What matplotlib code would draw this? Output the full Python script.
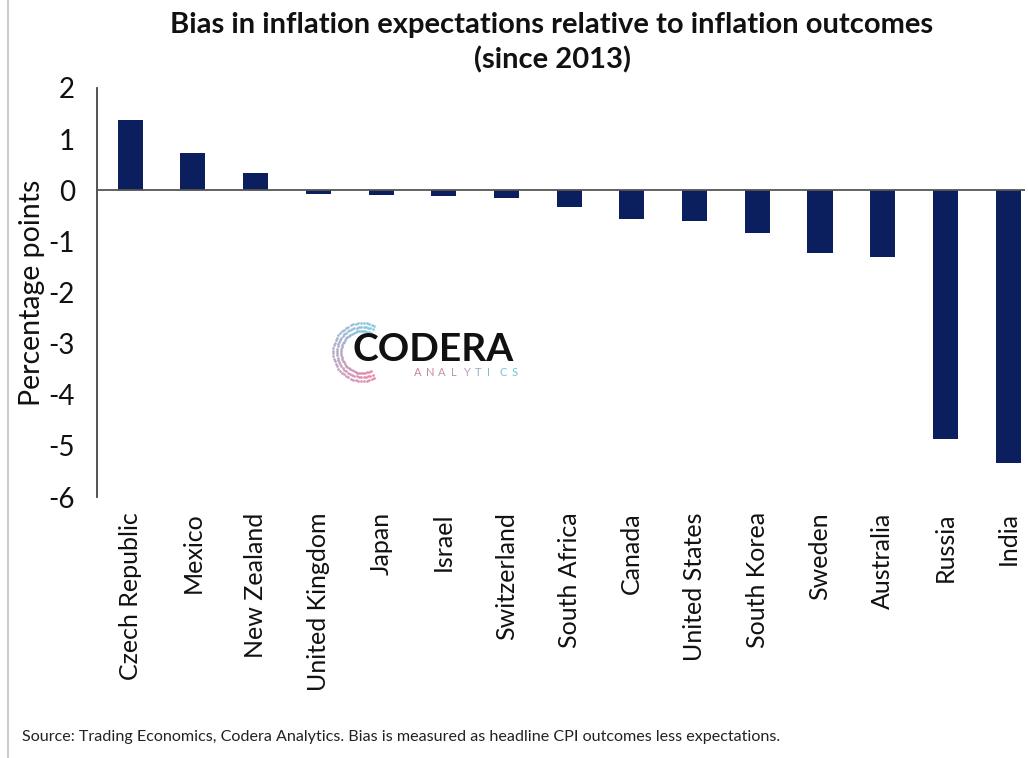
import numpy as np
import matplotlib
matplotlib.use("Agg")
import matplotlib.pyplot as plt
from matplotlib.lines import Line2D

countries = ["Czech Republic", "Mexico", "New Zealand", "United Kingdom", "Japan",
             "Israel", "Switzerland", "South Africa", "Canada", "United States",
             "South Korea", "Sweden", "Australia", "Russia", "India"]
bias = [1.38, 0.73, 0.33, -0.08, -0.10, -0.12, -0.16, -0.33, -0.56, -0.60,
        -0.84, -1.22, -1.31, -4.86, -5.34]
yticks = [2, 1, 0, -1, -2, -3, -4, -5, -6]

title = "Bias in inflation expectations relative to inflation outcomes\n(since 2013)"
ylabel = "Percentage points"
source = "Source: Trading Economics, Codera Analytics. Bias is measured as headline CPI outcomes less expectations."

plt.rcParams['font.family'] = ['Lato', 'DejaVu Sans']

fig = plt.figure(figsize=(10.28, 7.58), dpi=100)
ax = fig.add_axes([97/1028, 1-497/758, (1025-97)/1028, (497-88)/758])

x = np.arange(len(countries))
ax.bar(x, bias, width=0.4, color="#0b1f5e", zorder=2)
ax.axhline(0, color="#555555", lw=1.3, zorder=3)
ax.set_xlim(-0.53, 14.27)
ax.set_ylim(-6, 2)
ax.set_yticks(yticks)
ax.set_yticklabels([str(t) for t in yticks], fontsize=20, color="#111111")
ax.tick_params(axis='y', length=0, pad=16)
ax.set_xticks(x)
ax.set_xticklabels(countries, rotation=90, fontsize=18, color="#111111")
ax.tick_params(axis='x', length=0, pad=11)
for s in ["top", "right", "bottom"]:
    ax.spines[s].set_visible(False)
ax.spines["left"].set_color("#444444")
ax.spines["left"].set_linewidth(1.3)
ax.set_ylabel(ylabel, fontsize=20.5, color="#111111")
ax.yaxis.set_label_coords(-0.056, 0.5)

fig.text(552/1028, 1-25/758, "Bias in inflation expectations relative to inflation outcomes",
         ha="center", va="center", fontsize=21, fontweight="bold", color="#111111")
fig.text(552/1028, 1-60/758, "(since 2013)",
         ha="center", va="center", fontsize=21, fontweight="bold", color="#111111")
fig.text(22/1028, 1-737/758, source, ha="left", va="center", fontsize=11.6, color="#222222")
fig.add_artist(Line2D([8/1028, 8/1028], [0, 1], color="#cccccc", lw=1.5,
                      transform=fig.transFigure))

# Logo (decorative)
fig.text(352/1028, 1-350/758, "CODERA", ha="left", va="center", fontsize=28,
         fontweight="bold", color="#111111")
letters = "ANALYTICS"
cols = ["#c9829b", "#c88aa1", "#c491a9", "#bb9ab3", "#b0a3bd", "#a2acc6", "#90b6cc",
        "#7fc0d0", "#6fc8d2"]
for i, (ch, c) in enumerate(zip(letters, cols)):
    fig.text((414 + i*12.2)/1028, 1-373/758, ch, ha="left", va="center", fontsize=8, color=c)
cx, cy, r = 362, 352, 27
for k, th in enumerate(np.linspace(np.deg2rad(65), np.deg2rad(295), 44)):
    t = k/43
    col = (0.45 + 0.45*t, 0.78 - 0.3*t, 0.88 - 0.25*t)
    for dr in (-6, -2, 2):
        px = cx + (r+dr)*np.cos(th)
        py = cy - (r+dr)*np.sin(th)
        fig.add_artist(Line2D([px/1028], [1-py/758], marker='.', ms=2.2, color=col,
                              alpha=0.7, transform=fig.transFigure))

fig.savefig("out.png", dpi=100, facecolor="white")
